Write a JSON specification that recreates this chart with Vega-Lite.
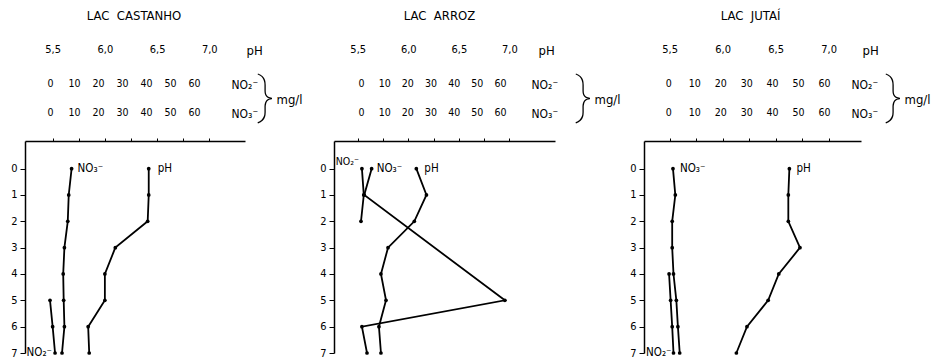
{
  "$schema": "https://vega.github.io/schema/vega-lite/v6.json",
  "padding": {"left": 10, "top": 10, "right": 0, "bottom": 0},
  "background": "white",
  "config": {
    "view": {"stroke": null},
    "font": "DejaVu Sans Condensed, DejaVu Sans",
    "axis": {"grid": false, "labelColor": "black", "titleColor": "black", "domainColor": "black", "tickColor": "black", "titleFontWeight": "normal", "labelFont": "DejaVu Sans Condensed, DejaVu Sans", "titleFont": "DejaVu Sans Condensed, DejaVu Sans", "labelFlush": false, "labelOverlap": false},
    "title": {"font": "DejaVu Sans Condensed, DejaVu Sans", "fontSize": 13, "fontWeight": "normal", "color": "black", "offset": 20, "anchor": "middle"},
    "text": {"font": "DejaVu Sans Condensed, DejaVu Sans", "fontSize": 11.5, "color": "black"}
  },
  "datasets": {
    "castanho_ph": [
      {"depth": 0, "pH": 6.42}, {"depth": 1, "pH": 6.42}, {"depth": 2, "pH": 6.41}, {"depth": 3, "pH": 6.10},
      {"depth": 4, "pH": 6.00}, {"depth": 5, "pH": 6.00}, {"depth": 6, "pH": 5.84}, {"depth": 7, "pH": 5.85}
    ],
    "castanho_no": [
      {"param": "NO3", "depth": 0, "conc": 9.0}, {"param": "NO3", "depth": 1, "conc": 7.8}, {"param": "NO3", "depth": 2, "conc": 7.4},
      {"param": "NO3", "depth": 3, "conc": 6.0}, {"param": "NO3", "depth": 4, "conc": 5.5}, {"param": "NO3", "depth": 5, "conc": 5.7},
      {"param": "NO3", "depth": 6, "conc": 6.0}, {"param": "NO3", "depth": 7, "conc": 5.0},
      {"param": "NO2", "depth": 5, "conc": 0.0}, {"param": "NO2", "depth": 6, "conc": 1.1}, {"param": "NO2", "depth": 7, "conc": 2.1}
    ],
    "arroz_ph": [
      {"depth": 0, "pH": 6.08}, {"depth": 1, "pH": 6.18}, {"depth": 2, "pH": 6.06}, {"depth": 3, "pH": 5.80},
      {"depth": 4, "pH": 5.73}, {"depth": 5, "pH": 5.78}, {"depth": 6, "pH": 5.71}, {"depth": 7, "pH": 5.73}
    ],
    "arroz_no": [
      {"param": "NO2", "depth": 0, "conc": 0.4}, {"param": "NO2", "depth": 1, "conc": 1.2}, {"param": "NO2", "depth": 2, "conc": 0.0},
      {"param": "NO3", "depth": 0, "conc": 4.6}, {"param": "NO3", "depth": 1, "conc": 1.4}, {"param": "NO3", "depth": 5, "conc": 62.1},
      {"param": "NO3", "depth": 6, "conc": 0.4}, {"param": "NO3", "depth": 7, "conc": 2.6}
    ],
    "jutai_ph": [
      {"depth": 0, "pH": 6.63}, {"depth": 1, "pH": 6.62}, {"depth": 2, "pH": 6.62}, {"depth": 3, "pH": 6.73},
      {"depth": 4, "pH": 6.53}, {"depth": 5, "pH": 6.43}, {"depth": 6, "pH": 6.23}, {"depth": 7, "pH": 6.13}
    ],
    "jutai_no": [
      {"param": "NO3", "depth": 0, "conc": 1.8}, {"param": "NO3", "depth": 1, "conc": 2.7}, {"param": "NO3", "depth": 2, "conc": 1.5},
      {"param": "NO3", "depth": 3, "conc": 1.5}, {"param": "NO3", "depth": 4, "conc": 2.0}, {"param": "NO3", "depth": 5, "conc": 3.1},
      {"param": "NO3", "depth": 6, "conc": 3.7}, {"param": "NO3", "depth": 7, "conc": 4.4},
      {"param": "NO2", "depth": 4, "conc": 0.3}, {"param": "NO2", "depth": 5, "conc": 0.9}, {"param": "NO2", "depth": 6, "conc": 1.5}, {"param": "NO2", "depth": 7, "conc": 2.0}
    ]
  },
  "bounds": "flush",
  "spacing": 89,
  "hconcat": [
    {
      "width": 220, "height": 212,
      "title": {"text": "LAC\u00a0\u00a0CASTANHO", "dx": -1},
      "encoding": {
        "y": {"field": "depth", "type": "quantitative", "scale": {"domain": [-1.05, 7], "nice": false, "zero": false, "reverse": true},
          "axis": {"orient": "left", "values": [0, 1, 2, 3, 4, 5, 6, 7], "tickSize": 5, "labelPadding": 3, "domainWidth": 1.5, "labelFontSize": 11, "title": "}", "titleX": 248, "titleY": -44, "titleAngle": 0, "titleAlign": "right", "titleBaseline": "middle", "titleFont": "Roboto", "titleFontWeight": 100, "titleFontSize": 50}}
      },
      "layer": [
        {"data": {"name": "castanho_ph"}, "mark": {"type": "line", "color": "black", "strokeWidth": 1.8},
          "encoding": {"x": {"field": "pH", "type": "quantitative", "scale": {"domain": [5.235, 7.342], "nice": false, "zero": false},
            "axis": {"orient": "top", "values": [5.5, 5.75, 6, 6.25, 6.5, 6.75, 7], "labelExpr": "(datum.value*2)%1==0 ? replace(format(datum.value,'.1f'),'.',',') : ''", "labelPadding": 84, "tickSize": 3, "domainWidth": 1.5, "labelFontSize": 11, "title": "pH", "titleX": 221, "titleY": -91, "titleAlign": "left", "titleBaseline": "middle", "titleAngle": 0, "titleFontSize": 13}},
            "order": {"field": "depth"}}},
        {"data": {"name": "castanho_ph"}, "mark": {"type": "point", "filled": true, "color": "black", "size": 14, "opacity": 1},
          "encoding": {"x": {"field": "pH", "type": "quantitative", "scale": {"domain": [5.235, 7.342], "nice": false, "zero": false},
            "axis": {"orient": "top", "domain": false, "ticks": false, "labels": false, "title": "mg/l", "titleX": 251, "titleY": -42, "titleAlign": "left", "titleBaseline": "middle", "titleAngle": 0, "titleFontSize": 13}}}},
        {"data": {"name": "castanho_no"}, "mark": {"type": "line", "color": "black", "strokeWidth": 1.8},
          "encoding": {"x": {"field": "conc", "type": "quantitative", "scale": {"domain": [-10.42, 81.25], "nice": false, "zero": false},
            "axis": {"orient": "top", "values": [0, 10, 20, 30, 40, 50, 60], "domain": false, "ticks": false, "tickSize": 0, "labelPadding": 53, "labelFontSize": 10.5, "title": "NO₂⁻", "titleX": 206, "titleY": -57, "titleAlign": "left", "titleBaseline": "middle", "titleAngle": 0, "titleFontSize": 12}},
            "detail": {"field": "param"}, "order": {"field": "depth"}}},
        {"data": {"name": "castanho_no"}, "mark": {"type": "point", "filled": true, "color": "black", "size": 14, "opacity": 1},
          "encoding": {"x": {"field": "conc", "type": "quantitative", "scale": {"domain": [-10.42, 81.25], "nice": false, "zero": false},
            "axis": {"orient": "top", "values": [0, 10, 20, 30, 40, 50, 60], "domain": false, "ticks": false, "tickSize": 0, "labelPadding": 24, "labelFontSize": 10.5, "title": "NO₃⁻", "titleX": 206, "titleY": -28, "titleAlign": "left", "titleBaseline": "middle", "titleAngle": 0, "titleFontSize": 12}}}},
        {"data": {"name": "castanho_no"}, "transform": [{"filter": "datum.param == 'NO3' && datum.depth == 0"}],
          "mark": {"type": "text", "text": "NO₃⁻", "align": "left", "baseline": "middle", "dx": 6},
          "encoding": {"x": {"field": "conc", "type": "quantitative", "scale": {"domain": [-10.42, 81.25], "nice": false, "zero": false}, "axis": null}}},
        {"data": {"name": "castanho_no"}, "transform": [{"filter": "datum.param == 'NO2' && datum.depth == 7"}],
          "mark": {"type": "text", "text": "NO₂⁻", "align": "right", "baseline": "middle", "dx": -3},
          "encoding": {"x": {"field": "conc", "type": "quantitative", "scale": {"domain": [-10.42, 81.25], "nice": false, "zero": false}, "axis": null}}},
        {"data": {"name": "castanho_ph"}, "transform": [{"filter": "datum.depth == 0"}],
          "mark": {"type": "text", "text": "pH", "align": "left", "baseline": "middle", "dx": 9},
          "encoding": {"x": {"field": "pH", "type": "quantitative", "scale": {"domain": [5.235, 7.342], "nice": false, "zero": false}, "axis": null}}}
      ],
      "resolve": {"scale": {"x": "independent"}}
    },
    {
      "width": 221, "height": 212,
      "title": {"text": "LAC\u00a0\u00a0ARROZ", "dx": -5},
      "encoding": {
        "y": {"field": "depth", "type": "quantitative", "scale": {"domain": [-1.05, 7], "nice": false, "zero": false, "reverse": true},
          "axis": {"orient": "left", "values": [0, 1, 2, 3, 4, 5, 6, 7], "tickSize": 5, "labelPadding": 3, "domainWidth": 1.5, "labelFontSize": 11, "title": "}", "titleX": 257, "titleY": -44, "titleAngle": 0, "titleAlign": "right", "titleBaseline": "middle", "titleFont": "Roboto", "titleFontWeight": 100, "titleFontSize": 50}}
      },
      "layer": [
        {"data": {"name": "arroz_ph"}, "mark": {"type": "line", "color": "black", "strokeWidth": 1.8},
          "encoding": {"x": {"field": "pH", "type": "quantitative", "scale": {"domain": [5.2656, 7.4515], "nice": false, "zero": false},
            "axis": {"orient": "top", "values": [5.5, 5.75, 6, 6.25, 6.5, 6.75, 7], "labelExpr": "(datum.value*2)%1==0 ? replace(format(datum.value,'.1f'),'.',',') : ''", "labelPadding": 84, "tickSize": 3, "domainWidth": 1.5, "labelFontSize": 11, "title": "pH", "titleX": 204, "titleY": -91, "titleAlign": "left", "titleBaseline": "middle", "titleAngle": 0, "titleFontSize": 13}},
            "order": {"field": "depth"}}},
        {"data": {"name": "arroz_ph"}, "mark": {"type": "point", "filled": true, "color": "black", "size": 14, "opacity": 1},
          "encoding": {"x": {"field": "pH", "type": "quantitative", "scale": {"domain": [5.2656, 7.4515], "nice": false, "zero": false},
            "axis": {"orient": "top", "domain": false, "ticks": false, "labels": false, "title": "mg/l", "titleX": 260, "titleY": -42, "titleAlign": "left", "titleBaseline": "middle", "titleAngle": 0, "titleFontSize": 13}}}},
        {"data": {"name": "arroz_no"}, "mark": {"type": "line", "color": "black", "strokeWidth": 1.8},
          "encoding": {"x": {"field": "conc", "type": "quantitative", "scale": {"domain": [-11.65, 83.73], "nice": false, "zero": false},
            "axis": {"orient": "top", "values": [0, 10, 20, 30, 40, 50, 60], "domain": false, "ticks": false, "tickSize": 0, "labelPadding": 53, "labelFontSize": 10.5, "title": "NO₂⁻", "titleX": 197, "titleY": -57, "titleAlign": "left", "titleBaseline": "middle", "titleAngle": 0, "titleFontSize": 12}},
            "detail": {"field": "param"}, "order": {"field": "depth"}}},
        {"data": {"name": "arroz_no"}, "mark": {"type": "point", "filled": true, "color": "black", "size": 14, "opacity": 1},
          "encoding": {"x": {"field": "conc", "type": "quantitative", "scale": {"domain": [-11.65, 83.73], "nice": false, "zero": false},
            "axis": {"orient": "top", "values": [0, 10, 20, 30, 40, 50, 60], "domain": false, "ticks": false, "tickSize": 0, "labelPadding": 24, "labelFontSize": 10.5, "title": "NO₃⁻", "titleX": 197, "titleY": -28, "titleAlign": "left", "titleBaseline": "middle", "titleAngle": 0, "titleFontSize": 12}}}},
        {"data": {"name": "arroz_no"}, "transform": [{"filter": "datum.param == 'NO3' && datum.depth == 0"}],
          "mark": {"type": "text", "text": "NO₃⁻", "align": "left", "baseline": "middle", "dx": 5},
          "encoding": {"x": {"field": "conc", "type": "quantitative", "scale": {"domain": [-11.65, 83.73], "nice": false, "zero": false}, "axis": null}}},
        {"data": {"name": "arroz_no"}, "transform": [{"filter": "datum.param == 'NO2' && datum.depth == 0"}],
          "mark": {"type": "text", "text": "NO₂⁻", "align": "right", "baseline": "middle", "dx": -3, "dy": -7, "fontSize": 10.5},
          "encoding": {"x": {"field": "conc", "type": "quantitative", "scale": {"domain": [-11.65, 83.73], "nice": false, "zero": false}, "axis": null}}},
        {"data": {"name": "arroz_ph"}, "transform": [{"filter": "datum.depth == 0"}],
          "mark": {"type": "text", "text": "pH", "align": "left", "baseline": "middle", "dx": 8},
          "encoding": {"x": {"field": "pH", "type": "quantitative", "scale": {"domain": [5.2656, 7.4515], "nice": false, "zero": false}, "axis": null}}}
      ],
      "resolve": {"scale": {"x": "independent"}}
    },
    {
      "width": 217, "height": 212,
      "title": {"text": "LAC\u00a0\u00a0JUTAÍ", "dx": -2},
      "encoding": {
        "y": {"field": "depth", "type": "quantitative", "scale": {"domain": [-1.05, 7], "nice": false, "zero": false, "reverse": true},
          "axis": {"orient": "left", "values": [0, 1, 2, 3, 4, 5, 6, 7], "tickSize": 5, "labelPadding": 3, "domainWidth": 1.5, "labelFontSize": 11, "title": "}", "titleX": 257, "titleY": -44, "titleAngle": 0, "titleAlign": "right", "titleBaseline": "middle", "titleFont": "Roboto", "titleFontWeight": 100, "titleFontSize": 50}}
      },
      "layer": [
        {"data": {"name": "jutai_ph"}, "mark": {"type": "line", "color": "black", "strokeWidth": 1.8},
          "encoding": {"x": {"field": "pH", "type": "quantitative", "scale": {"domain": [5.2585, 7.3057], "nice": false, "zero": false},
            "axis": {"orient": "top", "values": [5.5, 5.75, 6, 6.25, 6.5, 6.75, 7], "labelExpr": "(datum.value*2)%1==0 ? replace(format(datum.value,'.1f'),'.',',') : ''", "labelPadding": 84, "tickSize": 3, "domainWidth": 1.5, "labelFontSize": 11, "title": "pH", "titleX": 218, "titleY": -91, "titleAlign": "left", "titleBaseline": "middle", "titleAngle": 0, "titleFontSize": 13}},
            "order": {"field": "depth"}}},
        {"data": {"name": "jutai_ph"}, "mark": {"type": "point", "filled": true, "color": "black", "size": 14, "opacity": 1},
          "encoding": {"x": {"field": "pH", "type": "quantitative", "scale": {"domain": [5.2585, 7.3057], "nice": false, "zero": false},
            "axis": {"orient": "top", "domain": false, "ticks": false, "labels": false, "title": "mg/l", "titleX": 260, "titleY": -42, "titleAlign": "left", "titleBaseline": "middle", "titleAngle": 0, "titleFontSize": 13}}}},
        {"data": {"name": "jutai_no"}, "mark": {"type": "line", "color": "black", "strokeWidth": 1.8},
          "encoding": {"x": {"field": "conc", "type": "quantitative", "scale": {"domain": [-9.364, 74.26], "nice": false, "zero": false},
            "axis": {"orient": "top", "values": [0, 10, 20, 30, 40, 50, 60], "domain": false, "ticks": false, "tickSize": 0, "labelPadding": 53, "labelFontSize": 10.5, "title": "NO₂⁻", "titleX": 207, "titleY": -57, "titleAlign": "left", "titleBaseline": "middle", "titleAngle": 0, "titleFontSize": 12}},
            "detail": {"field": "param"}, "order": {"field": "depth"}}},
        {"data": {"name": "jutai_no"}, "mark": {"type": "point", "filled": true, "color": "black", "size": 14, "opacity": 1},
          "encoding": {"x": {"field": "conc", "type": "quantitative", "scale": {"domain": [-9.364, 74.26], "nice": false, "zero": false},
            "axis": {"orient": "top", "values": [0, 10, 20, 30, 40, 50, 60], "domain": false, "ticks": false, "tickSize": 0, "labelPadding": 24, "labelFontSize": 10.5, "title": "NO₃⁻", "titleX": 207, "titleY": -28, "titleAlign": "left", "titleBaseline": "middle", "titleAngle": 0, "titleFontSize": 12}}}},
        {"data": {"name": "jutai_no"}, "transform": [{"filter": "datum.param == 'NO3' && datum.depth == 0"}],
          "mark": {"type": "text", "text": "NO₃⁻", "align": "left", "baseline": "middle", "dx": 7},
          "encoding": {"x": {"field": "conc", "type": "quantitative", "scale": {"domain": [-9.364, 74.26], "nice": false, "zero": false}, "axis": null}}},
        {"data": {"name": "jutai_no"}, "transform": [{"filter": "datum.param == 'NO2' && datum.depth == 7"}],
          "mark": {"type": "text", "text": "NO₂⁻", "align": "right", "baseline": "middle", "dx": -2},
          "encoding": {"x": {"field": "conc", "type": "quantitative", "scale": {"domain": [-9.364, 74.26], "nice": false, "zero": false}, "axis": null}}},
        {"data": {"name": "jutai_ph"}, "transform": [{"filter": "datum.depth == 0"}],
          "mark": {"type": "text", "text": "pH", "align": "left", "baseline": "middle", "dx": 7},
          "encoding": {"x": {"field": "pH", "type": "quantitative", "scale": {"domain": [5.2585, 7.3057], "nice": false, "zero": false}, "axis": null}}}
      ],
      "resolve": {"scale": {"x": "independent"}}
    }
  ]
}
